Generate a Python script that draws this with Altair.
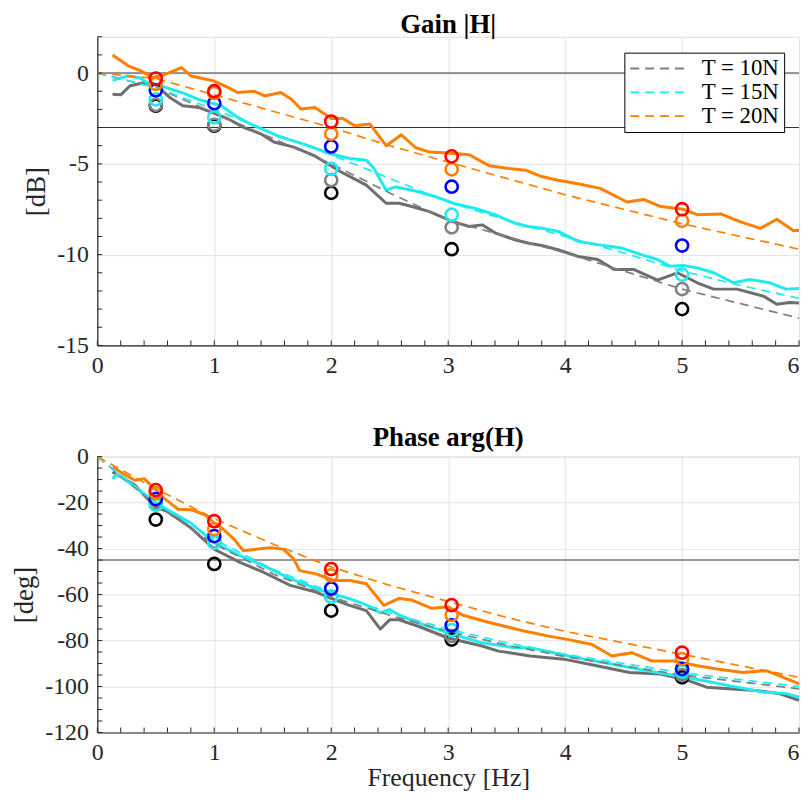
import altair as alt
import pandas as pd

# ---------------- data ----------------
tensions = ["T = 10N", "T = 15N", "T = 20N"]

# measured gain [dB]
gain_grey_f = [0.13, 0.2, 0.28, 0.4, 0.5, 0.62, 0.73, 0.87, 0.98, 1.12, 1.26, 1.4, 1.51, 1.68, 1.85, 1.99, 2.1, 2.3, 2.47, 2.58, 2.69, 2.84, 3.04, 3.18, 3.29, 3.4, 3.57, 3.68, 3.8, 3.94, 4.11, 4.28, 4.42, 4.59, 4.79, 4.96, 5.13, 5.27, 5.47, 5.7, 5.81, 5.92, 6.0]
gain_grey_v = [-1.17, -1.2, -0.7, -0.53, -0.62, -1.35, -1.8, -1.9, -2.17, -2.53, -3.02, -3.35, -3.8, -4.08, -4.53, -5.08, -5.5, -6.17, -7.17, -7.17, -7.35, -7.63, -8.18, -8.45, -8.36, -8.8, -9.18, -9.36, -9.5, -9.73, -10.1, -10.27, -10.82, -10.82, -11.4, -11.0, -11.55, -11.9, -11.9, -12.3, -12.73, -12.64, -12.66]
gain_cyan_f = [0.13, 0.26, 0.36, 0.43, 0.5, 0.72, 0.86, 1.06, 1.2, 1.34, 1.57, 1.76, 1.99, 2.16, 2.3, 2.36, 2.47, 2.55, 2.69, 2.89, 3.06, 3.23, 3.4, 3.57, 3.68, 3.8, 3.94, 4.11, 4.28, 4.48, 4.65, 4.79, 4.9, 5.01, 5.13, 5.27, 5.44, 5.58, 5.75, 5.89, 6.0]
gain_cyan_v = [-0.4, -0.16, -0.26, -0.53, -0.62, -1.07, -1.44, -1.8, -2.44, -2.9, -3.53, -3.9, -4.44, -4.7, -4.8, -5.2, -6.45, -6.27, -6.45, -6.8, -7.2, -7.45, -7.8, -8.27, -8.45, -8.55, -8.72, -9.27, -9.45, -9.63, -10.0, -10.27, -10.64, -10.6, -10.73, -11.0, -11.55, -11.37, -11.55, -11.9, -11.87]
gain_orange_f = [0.13, 0.27, 0.38, 0.47, 0.58, 0.72, 0.8, 1.0, 1.12, 1.2, 1.34, 1.43, 1.57, 1.66, 1.74, 1.86, 2.0, 2.1, 2.2, 2.33, 2.47, 2.6, 2.72, 2.84, 3.0, 3.18, 3.35, 3.52, 3.66, 3.8, 3.94, 4.11, 4.3, 4.53, 4.67, 4.82, 5.01, 5.13, 5.33, 5.5, 5.67, 5.81, 5.95, 6.0]
gain_orange_v = [1.0, 0.38, 0.1, -0.26, -0.07, 0.3, -0.16, -0.44, -0.8, -1.07, -1.0, -1.26, -1.07, -1.44, -1.98, -1.9, -2.5, -2.5, -2.9, -2.8, -4.0, -3.4, -4.1, -4.35, -4.4, -4.5, -5.1, -5.26, -5.35, -5.7, -5.9, -6.1, -6.35, -7.1, -6.96, -7.35, -7.5, -7.8, -7.76, -8.2, -8.55, -8.05, -8.67, -8.67]

# model gain [dB]
model_f = [0, 0.5, 1, 1.5, 2, 2.5, 3, 3.5, 4, 4.5, 5, 5.5, 6]
model_gain_grey = [0, -0.8, -2.2, -3.6, -5.0, -6.6, -8.1, -9.0, -9.9, -10.9, -11.9, -12.7, -13.5]
model_gain_cyan = [0, -0.8, -2.0, -3.3, -4.5, -5.8, -7.1, -8.1, -9.0, -9.9, -10.9, -11.7, -12.4]
model_gain_orange = [0, -0.3, -1.2, -2.1, -3.0, -4.0, -4.9, -5.8, -6.7, -7.5, -8.3, -9.0, -9.7]

# measured phase [deg]
phase_grey_f = [0.13, 0.32, 0.49, 0.6, 0.8, 1.0, 1.22, 1.42, 1.65, 1.87, 2.0, 2.15, 2.3, 2.42, 2.5, 2.58, 2.75, 3.0, 3.29, 3.43, 3.7, 3.99, 4.27, 4.55, 4.81, 5.01, 5.21, 5.4, 5.63, 5.83, 6.0]
phase_grey_v = [-6.7, -12.4, -21.7, -23.9, -31, -40.3, -46, -50.3, -56, -58.9, -61.7, -64.6, -67, -75, -71, -71, -73.9, -78.9, -82.4, -84.6, -86.7, -88.1, -91, -93.9, -94.6, -96.7, -100.3, -101, -101.7, -103.1, -106]
phase_cyan_f = [0.13, 0.17, 0.32, 0.49, 0.6, 0.8, 1.0, 1.22, 1.42, 1.65, 1.87, 2.0, 2.15, 2.3, 2.42, 2.5, 2.58, 2.75, 3.0, 3.29, 3.57, 3.7, 3.9, 4.16, 4.41, 4.69, 4.95, 5.18, 5.4, 5.69, 5.89, 6.0]
phase_cyan_v = [-9.6, -7.5, -13.1, -19.6, -23.1, -28.9, -37.4, -43.1, -47.4, -53.1, -57.4, -59.6, -61.7, -64.5, -68, -66.5, -68.9, -72.4, -76.7, -81, -83.1, -83.1, -85.3, -88.1, -90.3, -93.1, -95.3, -97.4, -99.6, -102.4, -103.1, -104.6]
phase_orange_f = [0.13, 0.22, 0.32, 0.4, 0.49, 0.57, 0.69, 0.8, 0.92, 1.0, 1.08, 1.17, 1.25, 1.36, 1.48, 1.59, 1.68, 1.73, 1.87, 2.02, 2.16, 2.3, 2.45, 2.58, 2.69, 2.86, 3.0, 3.12, 3.32, 3.49, 3.66, 3.86, 4.03, 4.23, 4.4, 4.57, 4.74, 4.93, 5.13, 5.3, 5.52, 5.72, 5.83, 6.0]
phase_orange_v = [-4.6, -7.4, -10.3, -9.6, -13.9, -18.1, -22.9, -23.1, -25.3, -28.9, -31.7, -36, -41, -40.3, -39.6, -40.3, -44.6, -49.6, -51, -53.9, -53.9, -55.3, -64.7, -61.7, -62.4, -66, -65.3, -68.9, -71.7, -73.9, -76, -78.1, -79.6, -81.7, -86.7, -85.3, -88.9, -88.9, -91, -92.4, -93.9, -93.1, -95.3, -98.9]

# model phase [deg]
model_phase_grey = [0, -21, -38, -51, -61, -69, -76, -82, -87, -91, -95, -98, -101]
model_phase_cyan = [0, -20, -36, -49, -59, -68, -75, -81, -86, -90, -94, -97, -100]
model_phase_orange = [0, -14, -27, -38, -48, -56, -63, -70, -76, -81, -86, -91, -96]

# point estimates (circles)
circle_f = [0.5, 1, 2, 3.03, 5]
circle_colors = ["#000000", "#808080", "#1EEBF0", "#0000FF", "#FF8000", "#FF0000"]
circle_gain = [
    [-1.8, -2.9, -6.6, -9.7, -13.0],
    [-1.75, -2.85, -5.9, -8.5, -11.9],
    [-1.45, -2.43, -5.27, -7.8, -11.1],
    [-0.95, -1.66, -4.04, -6.26, -9.5],
    [-0.6, -1.1, -3.35, -5.3, -8.14],
    [-0.3, -1.0, -2.67, -4.59, -7.5],
]
circle_phase = [
    [-27.4, -46.7, -67, -79.6, -96],
    [-20.5, -37, -61, -78, -95],
    [-21, -37.4, -60.9, -75.5, -93.5],
    [-18.5, -34.6, -57.4, -73.4, -92.4],
    [-16, -31.5, -51.7, -68.9, -88.1],
    [-14.6, -28.1, -48.9, -64.6, -85.3],
]

ref_gain = [0, -3]
ref_phase = [-45]

x_major = [0, 1, 2, 3, 4, 5, 6]
x_minor = [round(0.2 * i, 1) for i in range(31)]
gain_major = [-15, -10, -5, 0]
gain_minor = list(range(-15, 3))
phase_major = [-120, -100, -80, -60, -40, -20, 0]
phase_minor = list(range(-120, 1, 5))

solid_colors = ["#6E6E6E", "#1EEBF0", "#FF8000"]
dash_colors = ["#7F7F7F", "#1EEBF0", "#FF8000"]

# ---------------- chart ----------------
FONT = "Liberation Serif"
W = 707
H1 = 311
H2 = 278
AX = "#262626"


def series_df(fs, vs, names, colors):
    rows = []
    for f_list, v_list, n, c in zip(fs, vs, names, colors):
        for f, v in zip(f_list, v_list):
            rows.append({"f": f, "v": v, "s": n, "c": c})
    return pd.DataFrame(rows)


def circles_df(vals):
    rows = []
    for i, (vlist, c) in enumerate(zip(vals, circle_colors)):
        for f, v in zip(circle_f, vlist):
            rows.append({"f": f, "v": v, "c": c, "o": i})
    return pd.DataFrame(rows)


def panel(solid, model, circles, refs, ydom, ymaj, ymin, h, title, title_offset, ytitle, xtitle, legend):
    xs = alt.Scale(domain=[0, 6], nice=False, zero=False)
    ys = alt.Scale(domain=ydom, nice=False, zero=False)
    xaxis = alt.Axis(values=x_major, grid=True, gridColor="#E3E3E3", ticks=False,
                     domainColor=AX, domainWidth=1.2, labelFont=FONT, labelFontSize=24,
                     labelColor=AX, labelPadding=8, labelFlush=False,
                     labelExpr="'' + datum.value",
                     labelAlign=alt.expr("datum.value >= 6 ? 'right' : 'center'"),
                     title=xtitle, titleFont=FONT, titleFontSize=26, titleFontWeight="normal",
                     titleColor=AX, titlePadding=0)
    yaxis = alt.Axis(values=ymaj, grid=True, gridColor="#E3E3E3", ticks=False,
                     domainColor=AX, domainWidth=1.2, labelFont=FONT, labelFontSize=24,
                     labelColor=AX, labelPadding=9, labelFlush=False,
                     labelExpr="'' + datum.value",
                     title=ytitle, titleFont=FONT, titleFontSize=27, titleFontWeight="normal",
                     titleColor=AX, titlePadding=6)
    X = alt.X("f:Q", scale=xs, axis=xaxis)
    Y = alt.Y("v:Q", scale=ys, axis=yaxis)

    refl = alt.Chart(pd.DataFrame({"v": refs})).mark_rule(color="#333333", strokeWidth=1.1).encode(y=Y)

    solid_l = alt.Chart(solid).mark_line(strokeWidth=3, strokeJoin="round").encode(
        x=X, y=Y, color=alt.Color("c:N", scale=None), detail="s:N", order="f:Q")

    if legend:
        leg = alt.Legend(title=None, orient="none", legendX=531, legendY=16,
                         symbolType="M-2.64,0H2.64", symbolSize=484, symbolStrokeWidth=1.8,
                         symbolOffset=19, symbolDash=[9, 6],
                         labelFont=FONT, labelFontSize=23, labelColor="#000000",
                         labelOffset=31, fillColor="white", strokeColor="#000000",
                         padding=4, rowPadding=0, labelLimit=200)
    else:
        leg = None
    model_l = alt.Chart(model).mark_line(strokeWidth=1.7, strokeDash=[9, 6]).encode(
        x=X, y=Y,
        color=alt.Color("s:N", scale=alt.Scale(domain=tensions, range=dash_colors), legend=leg),
        order="f:Q")

    circ = alt.Chart(circles).mark_point(shape="circle", size=150, strokeWidth=2.6, filled=False, opacity=1).encode(
        x=X, y=Y, stroke=alt.Stroke("c:N", scale=None), order="o:Q")

    ytick_df = pd.DataFrame({"v": ymin})
    ytk = alt.Chart(ytick_df).mark_rule(color=AX, strokeWidth=1).encode(
        y=Y, x=alt.value(0), x2=alt.value(5))
    xtick_df = pd.DataFrame({"f": x_minor})
    xtk = alt.Chart(xtick_df).mark_rule(color=AX, strokeWidth=1).encode(
        x=X, y=alt.value(h), y2=alt.value(h - 5))

    return alt.layer(refl, solid_l, model_l, circ, ytk, xtk).properties(
        width=W, height=h,
        title=alt.TitleParams(title, font=FONT, fontSize=27, fontWeight="bold", color="#000000",
                              anchor="middle", offset=title_offset))


gain_solid = series_df([gain_grey_f, gain_cyan_f, gain_orange_f],
                       [gain_grey_v, gain_cyan_v, gain_orange_v], tensions, solid_colors)
gain_model = series_df([model_f] * 3, [model_gain_grey, model_gain_cyan, model_gain_orange],
                       tensions, dash_colors)
phase_solid = series_df([phase_grey_f, phase_cyan_f, phase_orange_f],
                        [phase_grey_v, phase_cyan_v, phase_orange_v], tensions, solid_colors)
phase_model = series_df([model_f] * 3, [model_phase_grey, model_phase_cyan, model_phase_orange],
                        tensions, dash_colors)

top = panel(gain_solid, gain_model, circles_df(circle_gain), ref_gain, [-15, 2], gain_major,
            gain_minor, H1, "Gain |H|", -3, "[dB]", None, True)
bottom = panel(phase_solid, phase_model, circles_df(circle_phase), ref_phase, [-120, 0], phase_major,
               phase_minor, H2, "Phase arg(H)", -7, "[deg]", "Frequency [Hz]", False)

chart = alt.vconcat(top, bottom, spacing=45).resolve_scale(color="independent").resolve_legend(
    color="independent").properties(padding={"left": 2, "top": 0, "right": 0, "bottom": 0}).configure_view(
    stroke=None).configure(background="white")

chart.save("out.html", embed_options={"renderer": "svg", "actions": False})
